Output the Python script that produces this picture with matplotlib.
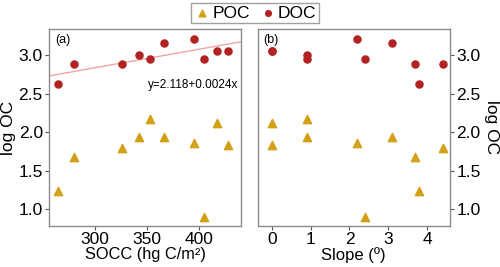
import matplotlib
matplotlib.use('Agg')
import matplotlib.pyplot as plt
import numpy as np

plt.rcParams['font.family'] = ['Liberation Sans', 'DejaVu Sans']

# data: SOCC, slope, log POC, log DOC per site
socc = [264, 280, 326, 342, 353, 366, 395, 405, 417, 428]
slope = [3.8, 3.7, 4.4, 0.9, 0.9, 3.1, 2.2, 2.4, 0.0, 0.0]
poc = [1.23, 1.67, 1.79, 1.94, 2.17, 1.94, 1.86, 0.90, 2.12, 1.83]
doc = [2.62, 2.89, 2.89, 3.00, 2.95, 3.16, 3.21, 2.95, 3.05, 3.05]
fit_a, fit_b = 2.118, 0.0024

poc_col = '#D4A017'
doc_col = '#B22222'
edge = '#8a8a8a'

fig = plt.figure(figsize=(5, 2.67), dpi=100)
ax1 = fig.add_axes([0.098, 0.154, 0.384, 0.737])
ax2 = fig.add_axes([0.515, 0.154, 0.385, 0.737])

for ax in (ax1, ax2):
    for s in ax.spines.values():
        s.set_color(edge)
        s.set_linewidth(1.0)
    ax.tick_params(colors='#555555', labelcolor='black', labelsize=12.5, length=3,
                   width=0.8, pad=1.5)
    ax.set_ylim(0.78, 3.34)
    ax.set_yticks([1.0, 1.5, 2.0, 2.5, 3.0])

# panel (a)
ax1.scatter(socc, poc, marker='^', s=36, color=poc_col, label='POC', zorder=3)
ax1.scatter(socc, doc, marker='o', s=26, color=doc_col, label='DOC', zorder=3)
ax1.set_xlim(255.5, 440.5)
xs = np.array(ax1.get_xlim())
ax1.plot(xs, fit_a + fit_b * xs, color='#F4A3A3', lw=1.0, zorder=2)
ax1.set_xticks([300, 350, 400])
ax1.set_xlabel('SOCC (hg C/m²)', fontsize=11.8, labelpad=0)
ax1.set_ylabel('log OC', fontsize=12.5, labelpad=2)
ax1.text(0.03, 0.975, '(a)', transform=ax1.transAxes, fontsize=9, va='top', ha='left')
ax1.text(0.985, 0.715, 'y=2.118+0.0024x', transform=ax1.transAxes, fontsize=8.5,
         va='center', ha='right')

# panel (b)
ax2.scatter(slope, poc, marker='^', s=36, color=poc_col, zorder=3)
ax2.scatter(slope, doc, marker='o', s=26, color=doc_col, zorder=3)
ax2.set_xlim(-0.37, 4.59)
ax2.set_xticks([0, 1, 2, 3, 4])
ax2.yaxis.tick_right()
ax2.yaxis.set_label_position('right')
ax2.set_xlabel('Slope (º)', fontsize=12, labelpad=0)
ax2.set_ylabel('log OC', fontsize=12.5, rotation=270, labelpad=13)
ax2.text(0.03, 0.975, '(b)', transform=ax2.transAxes, fontsize=9, va='top', ha='left')

fig.legend(loc='center', bbox_to_anchor=(0.51, 0.951), ncol=2, fontsize=12.5,
           frameon=True, fancybox=False, edgecolor=edge, handletextpad=0.1,
           columnspacing=0.5, borderpad=0.15, handlelength=1.0, markerscale=0.8)

fig.savefig('out.png', dpi=100)
